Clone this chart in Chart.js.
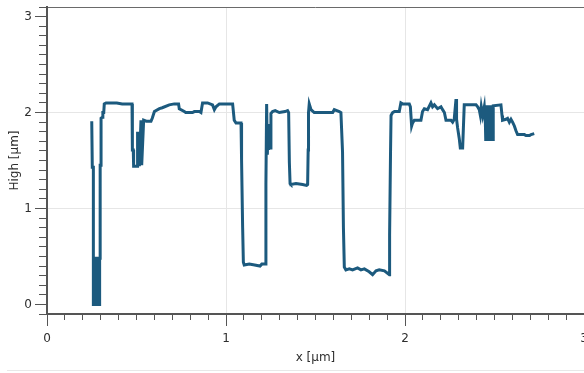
<!DOCTYPE html>
<html><head><meta charset="utf-8">
<script src="https://cdn.jsdelivr.net/npm/chart.js@4"></script>
<style>
html,body{margin:0;padding:0;background:#fff;}
#wrap{position:relative;width:584px;height:373px;}
#bl{position:absolute;left:7px;top:370px;width:577px;height:1px;background:#e8e8e8;}
</style>
</head><body>
<div id="wrap"><canvas id="c" width="584" height="373"></canvas><div id="bl"></div></div>
<script>
// profile position along the scan [µm]
const xValues = [
0.250,0.253,0.259,0.259,0.259,0.264,0.264,0.269,0.269,0.274,0.274,0.279,0.279,0.284,0.284,0.289,0.289,0.294,0.294,0.297,
0.297,0.302,0.302,0.309,0.312,0.317,
0.320,0.330,0.390,0.420,0.460,0.475,0.477,0.482,0.484,0.506,0.506,0.516,0.525,0.529,0.540,0.555,0.581,0.588,0.600,0.628,
0.644,0.683,0.711,0.735,0.739,0.767,0.775,0.813,0.823,0.851,0.860,0.869,0.897,0.925,0.935,0.944,0.963,1.037,1.046,1.056,
1.084,1.087,1.093,1.097,1.102,1.130,1.160,1.190,1.200,1.223,1.223,1.227,1.231,1.235,1.238,1.242,1.247,1.251,1.260,1.275,
1.298,1.330,1.344,1.350,1.354,1.358,1.363,1.391,1.428,1.450,1.456,1.459,1.461,1.465,1.475,1.493,1.596,1.605,1.633,1.642,
1.651,1.656,1.661,1.670,1.689,1.707,1.735,1.754,1.773,1.800,1.819,1.838,1.856,1.885,1.913,1.914,1.919,1.922,1.931,1.941,
1.968,1.977,1.986,2.024,2.030,2.037,2.042,2.052,2.089,2.098,2.108,2.126,2.145,2.154,2.164,2.182,2.201,2.210,2.220,2.229,
2.257,2.266,2.275,2.285,2.288,2.294,2.303,2.309,2.322,2.326,2.331,2.397,2.406,2.415,2.421,2.426,2.434,2.443,2.449,
2.451,2.457,2.457,2.463,2.463,2.469,2.469,2.475,2.475,2.481,2.481,2.487,2.487,2.493,2.493,
2.536,2.542,2.545,2.564,2.573,2.583,2.592,2.601,2.611,2.620,2.629,2.667,2.676,2.696,
2.704,2.722
];
// measured height [µm]
const heightValues = [
1.91,1.43,1.43,0.48,0.00,0.00,0.48,0.48,0.00,0.00,0.48,0.48,0.00,0.00,0.48,0.48,0.00,0.00,0.48,0.48,
1.45,1.45,1.94,1.95,2.00,2.00,
2.09,2.10,2.10,2.09,2.09,2.09,1.61,1.61,1.44,1.44,1.80,1.44,1.92,1.45,1.92,1.91,1.91,1.94,2.01,2.04,
2.05,2.08,2.09,2.09,2.04,2.01,2.00,2.00,2.01,2.01,2.00,2.10,2.10,2.08,2.03,2.06,2.09,2.09,1.92,1.89,
1.89,1.50,0.80,0.44,0.41,0.42,0.41,0.40,0.42,0.42,1.26,2.09,1.56,1.88,1.61,1.77,1.63,1.99,2.01,2.02,
2.00,2.01,2.02,2.00,1.48,1.26,1.25,1.26,1.25,1.24,1.25,1.61,2.00,2.09,2.03,2.00,2.00,2.03,2.01,2.00,
1.59,0.80,0.39,0.36,0.37,0.36,0.38,0.36,0.37,0.34,0.31,0.35,0.36,0.35,0.31,0.72,1.56,1.97,2.00,2.01,
2.01,2.10,2.09,2.09,2.06,1.86,1.89,1.92,1.92,2.01,2.04,2.03,2.10,2.06,2.08,2.04,2.06,2.03,2.00,1.92,
1.92,1.90,1.93,2.14,1.93,1.84,1.73,1.63,1.63,1.83,2.08,2.08,2.06,2.03,1.97,2.06,1.97,2.06,1.89,
1.72,1.72,2.06,2.06,1.72,1.72,2.06,2.06,1.72,1.72,2.06,2.06,1.72,1.72,2.07,
2.08,1.97,1.92,1.93,1.94,1.90,1.93,1.90,1.86,1.81,1.77,1.77,1.76,1.76,
1.77,1.78
];
const xTickLabels = ['0','1','2','3'];
const yTickLabels = ['0','1','2','3'];
const xTitle = 'x [µm]';
const yTitle = 'High [µm]';

const AXIS = '#555555';
const GRID = '#e6e6e6';
const FONT = {family: '"DejaVu Sans", Verdana, sans-serif', size: 12};
const TXT = '#2e2e2e';

Chart.defaults.font.family = FONT.family;

const points = xValues.map((x, i) => ({x: x, y: heightValues[i]}));
const isInt = v => Math.abs(v - Math.round(v)) < 1e-6;
const noPad = s => { s.paddingLeft = 0; s.paddingRight = 0; s.paddingTop = 0; s.paddingBottom = 0; };

new Chart(document.getElementById('c'), {
  type: 'scatter',
  data: {
    datasets: [{
      data: points,
      showLine: true,
      borderColor: '#1c5a7e',
      backgroundColor: '#1c5a7e',
      borderWidth: 3,
      pointRadius: 0,
      tension: 0,
      borderJoinStyle: 'miter',
      xAxisID: 'x',
      yAxisID: 'y'
    }]
  },
  options: {
    responsive: false,
    animation: false,
    devicePixelRatio: 1,
    layout: {padding: {top: 7, left: 0, right: 0, bottom: 0}},
    plugins: {legend: {display: false}, tooltip: {enabled: false}},
    scales: {
      x2: {
        type: 'linear', axis: 'x', position: 'bottom', weight: 0,
        min: 0, max: 3,
        ticks: {display: false, stepSize: 0.1},
        grid: {drawOnChartArea: false, drawTicks: true, tickLength: 6, tickColor: AXIS, tickWidth: 1},
        border: {display: false},
        afterFit: s => { s.height = 0; noPad(s); }
      },
      x: {
        type: 'linear', axis: 'x', position: 'bottom', weight: 1,
        min: 0, max: 3,
        ticks: {
          stepSize: 1, includeBounds: false, color: TXT, font: FONT, padding: 6,
          maxRotation: 0, autoSkip: false,
          callback: v => isInt(v) ? (xTickLabels[Math.round(v)] ?? '') : ''
        },
        grid: {
          color: c => (c.tick && c.tick.value > 0.5) ? GRID : 'rgba(0,0,0,0)',
          lineWidth: 1, drawTicks: true, tickLength: 12, tickColor: AXIS, tickWidth: 1
        },
        border: {display: true, color: AXIS, width: 2},
        title: {display: true, text: xTitle, color: TXT, font: FONT, padding: {top: 0, bottom: 8}},
        afterFit: s => { s.height = 59; noPad(s); }
      },
      y2: {
        type: 'linear', axis: 'y', position: 'left', weight: 0,
        min: -0.1, max: 3.1,
        ticks: {display: false, stepSize: 0.1},
        grid: {
          drawOnChartArea: true,
          color: c => (c.tick && Math.abs(c.tick.value - 3.1) < 1e-6) ? '#6a6a6a' : 'rgba(0,0,0,0)',
          lineWidth: 1, drawTicks: true, tickLength: 8, tickColor: AXIS, tickWidth: 1
        },
        border: {display: false},
        afterFit: s => { s.width = 0; noPad(s); }
      },
      y: {
        type: 'linear', axis: 'y', position: 'left', weight: 1,
        min: -0.1, max: 3.1,
        ticks: {
          stepSize: 1, includeBounds: false, color: TXT, font: FONT, padding: 3,
          callback: v => isInt(v) ? (yTickLabels[Math.round(v)] ?? '') : ''
        },
        grid: {
          color: c => (c.tick && c.tick.value > 0.5 && c.tick.value < 2.5) ? GRID : 'rgba(0,0,0,0)',
          lineWidth: 1, drawTicks: true, tickLength: 12, tickColor: AXIS, tickWidth: 1
        },
        border: {display: true, color: AXIS, width: 2},
        title: {display: true, text: yTitle, color: TXT, font: FONT, padding: {top: 8, bottom: 0}},
        afterFit: s => { s.width = 47; noPad(s); }
      }
    }
  }
});
</script>
</body></html>
